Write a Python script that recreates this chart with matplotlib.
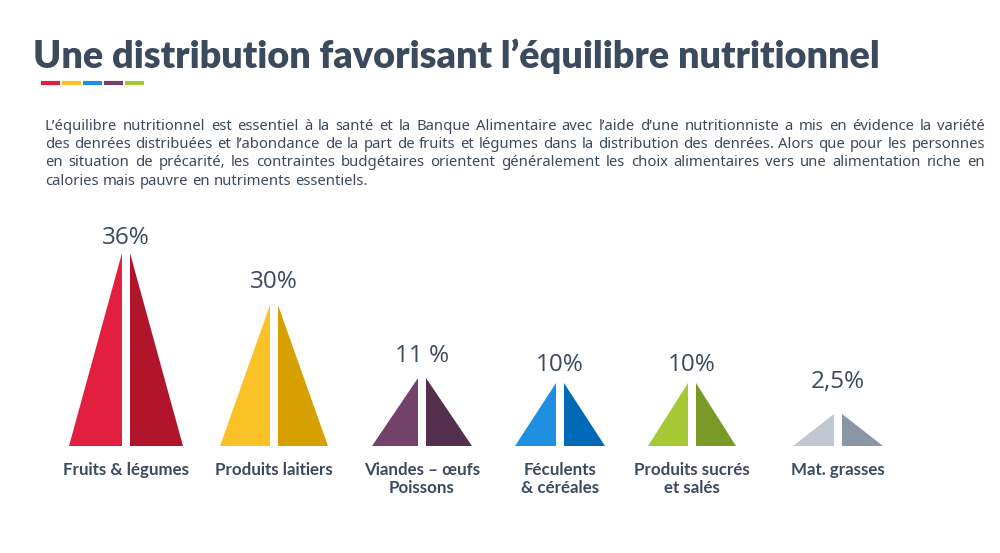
import matplotlib.pyplot as plt

# ---- data ----
categories = ["Fruits & légumes", "Produits laitiers", "Viandes – œufs\nPoissons",
              "Féculents\n& céréales", "Produits sucrés\net salés", "Mat. grasses"]
shares = [36, 30, 11, 10, 10, 2.5]
share_labels = ["36%", "30%", "11 %", "10%", "10%", "2,5%"]
# drawn triangle heights (the infographic is not to scale)
heights = [193, 141, 68, 63, 63, 32]
left_colors = ["#e31f3f", "#fbc226", "#73426b", "#1e8fe1", "#a6c835", "#c1c7d0"]
right_colors = ["#b0152c", "#d6a100", "#55304e", "#006ab8", "#7a9a28", "#8a95a5"]
bar_colors = ["#e31f3f", "#fbc226", "#1e8fe1", "#73426b", "#a6c835"]

title = "Une distribution favorisant l’équilibre nutritionnel"
paragraph = [
    "L’équilibre nutritionnel est essentiel à la santé et la Banque Alimentaire avec l’aide d’une nutritionniste a mis en évidence la variété",
    "des denrées distribuées et l’abondance de la part de fruits et légumes dans la distribution des denrées. Alors que pour les personnes",
    "en situation de précarité, les contraintes budgétaires orientent généralement les choix alimentaires vers une alimentation riche en",
    "calories mais pauvre en nutriments essentiels.",
]

# ---- layout ----
centers = [126, 274, 422, 560, 692, 838]
half_w = [53, 50, 46, 41, 40, 41]
label_gap = [9, 17, 16, 12, 12, 26]
gap = 4
base = 446
ink = "#3c4a5e"

fig = plt.figure(figsize=(10, 5.53), dpi=100)
ax = fig.add_axes([0, 0, 1, 1])
ax.set_xlim(0, 1000)
ax.set_ylim(553, 0)
ax.axis('off')

fig.canvas.draw()
r = fig.canvas.get_renderer()

# title, stretched to its width in the picture + coloured underline
t = ax.text(33, 68, title, fontsize=24.5, fontweight='heavy', family='Lato', color=ink, va='baseline')
w = t.get_window_extent(r).width
t.set_fontsize(24.5 * 847 / w)
for i, c in enumerate(bar_colors):
    ax.plot([41 + i * 21, 60 + i * 21], [83, 83], color=c, lw=3, solid_capstyle='butt')

# justified paragraph
for k, line in enumerate(paragraph):
    y = 130 + k * 18.2
    words = line.split(' ')
    texts = [ax.text(0, y, w, fontsize=10.7, family='Noto Sans', color=ink, va='baseline') for w in words]
    widths = [t.get_window_extent(r).width for t in texts]
    if k < len(paragraph) - 1:
        sp = (985 - 45 - sum(widths)) / (len(words) - 1)
    else:
        sp = 4.0
    x = 45
    for t, w in zip(texts, widths):
        t.set_x(x)
        x += w + sp

# split triangles
for i in range(len(categories)):
    cx, hw, h = centers[i], half_w[i], heights[i]
    top = base - h
    ax.fill([cx - gap - hw, cx - gap, cx - gap], [base, base, top], color=left_colors[i], lw=0)
    ax.fill([cx + gap, cx + gap + hw, cx + gap], [base, base, top], color=right_colors[i], lw=0)
    ax.text(cx, top - label_gap[i], share_labels[i], fontsize=17.5, family='Open Sans',
            color=ink, ha='center', va='baseline')
    ax.text(cx, 462, categories[i], fontsize=12.2, family='Lato', fontweight='bold',
            color=ink, ha='center', va='top', linespacing=1.15)

fig.savefig("out.png", dpi=100)
